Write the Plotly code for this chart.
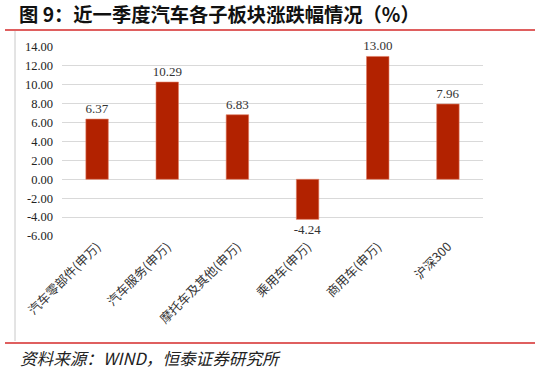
import plotly.graph_objects as go

categories = ["汽车零部件(申万)", "汽车服务(申万)", "摩托车及其他(申万)", "乘用车(申万)", "商用车(申万)", "沪深300"]
values = [6.37, 10.29, 6.83, -4.24, 13.00, 7.96]
tick_vals = [-6, -4, -2, 0, 2, 4, 6, 8, 10, 12, 14]
tick_text = ["%.2f" % v for v in tick_vals]

W, H = 539, 374
L, R, T, B = 62, 483, 47, 236

def px(x):
    return (x - L) / (R - L)

def py(y):
    return (B - y) / (B - T)

fig = go.Figure()
fig.add_trace(go.Bar(
    x=categories, y=values,
    marker=dict(color="#B22200", line=dict(color="#E07A60", width=0.6)),
    width=0.32,
    text=["%.2f" % v for v in values],
    textposition="outside",
    constraintext="none",
    textfont=dict(family="Liberation Serif", size=13, color="#333333"),
    cliponaxis=False,
    hoverinfo="skip",
))

fig.update_layout(
    width=W, height=H,
    margin=dict(l=L, r=W - R, t=T, b=H - B, pad=0, autoexpand=False),
    plot_bgcolor="white", paper_bgcolor="white",
    showlegend=False,
    xaxis=dict(
        tickangle=-45,
        tickfont=dict(family="Noto Sans CJK SC", size=12.5, color="#333333"),
        showgrid=False, zeroline=False, showline=False, ticks="",
        automargin=False,
    ),
    yaxis=dict(
        range=[-6, 14],
        tickvals=tick_vals, ticktext=tick_text,
        tickfont=dict(family="Liberation Serif", size=12.5, color="#222222"),
        showgrid=True, gridcolor="#D9D9D9", gridwidth=1,
        zeroline=False, showline=False, ticks="",
        ticklabelstandoff=8, automargin=False,
    ),
    shapes=[
        dict(type="line", xref="paper", yref="paper", x0=px(5), x1=px(535), y0=py(30), y1=py(30),
             line=dict(color="#D42A2A", width=1.5)),
        dict(type="line", xref="paper", yref="paper", x0=px(5), x1=px(535), y0=py(343), y1=py(343),
             line=dict(color="#D42A2A", width=1.5)),
        dict(type="line", xref="paper", yref="paper", x0=px(15), x1=px(15), y0=py(31), y1=py(341),
             line=dict(color="#C8C8C8", width=1)),
    ],
    annotations=[
        dict(text="<b>图 9：近一季度汽车各子板块涨跌幅情况（%）</b>", xref="paper", yref="paper",
             x=px(17), y=py(14), xanchor="left", yanchor="middle", showarrow=False,
             font=dict(family="Noto Sans CJK SC", size=19.3, color="#111111")),
        dict(text="<i>资料来源：WIND，恒泰证券研究所</i>", xref="paper", yref="paper",
             x=px(18), y=py(358), xanchor="left", yanchor="middle", showarrow=False,
             font=dict(family="Noto Sans CJK SC", size=16.6, color="#222222")),
    ],
)

fig.write_html("out.html",
               config={"displayModeBar": False, "staticPlot": True},
               post_script="document.body.style.margin='0';document.body.style.padding='0';")
